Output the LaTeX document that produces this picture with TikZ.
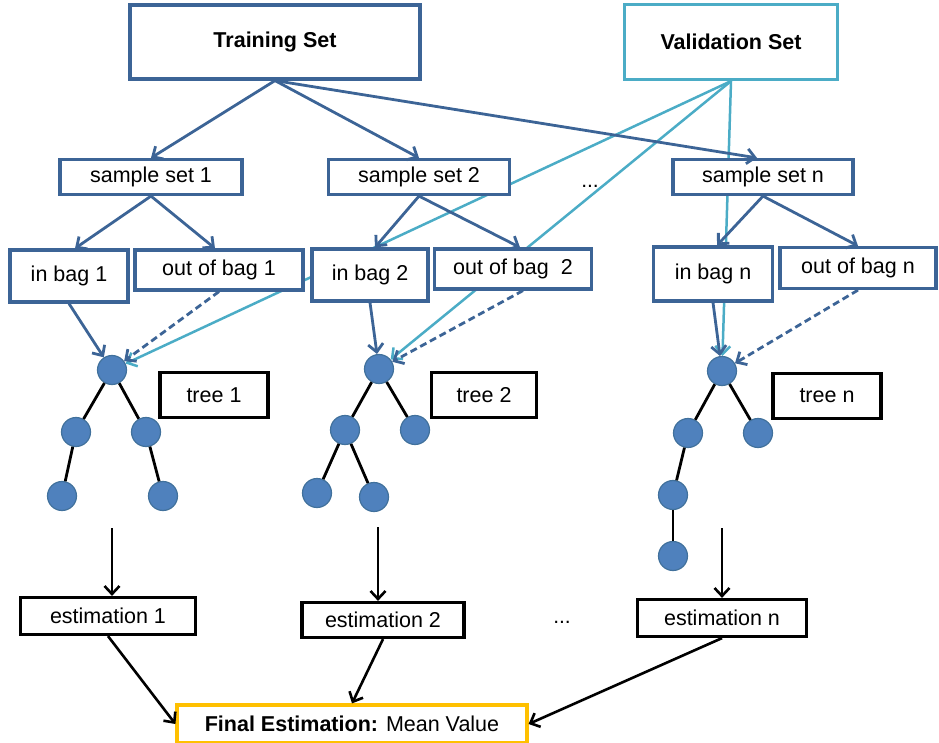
\documentclass[tikz,border=0pt]{standalone}
\usepackage{fontspec}
\setmainfont{Liberation Sans}
\usetikzlibrary{arrows.meta,backgrounds}
\definecolor{dblue}{HTML}{3C6496}
\definecolor{lblue}{HTML}{4BACC6}
\definecolor{nblue}{HTML}{4F81BD}
\definecolor{nedge}{HTML}{41719C}
\definecolor{fgold}{HTML}{FFC000}
\begin{document}
\begin{tikzpicture}[x=1pt,y=-1pt,
  box/.style={draw, line width=3.2pt, fill=white, inner sep=0pt, font=\fontsize{21.5}{25}\selectfont},
  bbox/.style={box, draw=dblue},
  kbox/.style={box, draw=black},
  tnode/.style={circle, fill=nblue, draw=nedge, line width=1.2pt, minimum size=29pt, inner sep=0pt},
  barb/.tip={Straight Barb[length=8pt,width=15pt]},
  darr/.style={draw=dblue, line width=2.8pt, -barb},
  larr/.style={draw=lblue, line width=2.5pt, -barb},
  karr/.style={draw=black, line width=2.6pt, -barb},
  tedge/.style={draw=black, line width=2.8pt}]
\useasboundingbox (0,0) rectangle (939,743);
\node[bbox, minimum width=290pt, minimum height=74pt] (ts) at (275,42){\bfseries Training Set};
\node[box, draw=lblue, minimum width=213pt, minimum height=75pt] (vs) at (731,42){\bfseries Validation Set};
\node[bbox, minimum width=182pt, minimum height=35pt] (ss1) at (151,177){sample set 1};
\node[bbox, minimum width=181pt, minimum height=35pt] (ss2) at (419,177){sample set 2};
\node[bbox, minimum width=180pt, minimum height=35pt] (ssn) at (763,177){sample set n};
\node[font=\fontsize{21}{25}\selectfont] (dots1) at (590,186){...};
\node[bbox, minimum width=118pt, minimum height=52pt] (ib1) at (69,276){in bag 1};
\node[bbox, minimum width=168pt, minimum height=40pt] (ob1) at (219,270){out of bag 1};
\node[bbox, minimum width=116pt, minimum height=52pt] (ib2) at (370,275){in bag 2};
\node[bbox, minimum width=157pt, minimum height=40pt] (ob2) at (513,269){out of bag~~2};
\node[bbox, minimum width=119pt, minimum height=54pt] (ibn) at (713,274){in bag n};
\node[bbox, minimum width=156pt, minimum height=41pt] (obn) at (858,268){out of bag n};
\node[tnode] (t1n0) at (112,370){};
\node[tnode] (t1n1) at (76,432){};
\node[tnode] (t1n2) at (146,432){};
\node[tnode] (t1n3) at (62,496){};
\node[tnode] (t1n4) at (163,496){};
\draw[tedge](t1n0) -- (t1n1);
\draw[tedge](t1n0) -- (t1n2);
\draw[tedge](t1n1) -- (t1n3);
\draw[tedge](t1n2) -- (t1n4);
\node[tnode] (t2n0) at (379,369){};
\node[tnode] (t2n1) at (345,430){};
\node[tnode] (t2n2) at (415,430){};
\node[tnode] (t2n3) at (317,493){};
\node[tnode] (t2n4) at (374,497){};
\draw[tedge](t2n0) -- (t2n1);
\draw[tedge](t2n0) -- (t2n2);
\draw[tedge](t2n1) -- (t2n3);
\draw[tedge](t2n1) -- (t2n4);
\node[tnode] (tnn0) at (722,371){};
\node[tnode] (tnn1) at (688,433){};
\node[tnode] (tnn2) at (758,433){};
\node[tnode] (tnn3) at (673,495){};
\node[tnode] (tnn4) at (673,556){};
\draw[tedge](tnn0) -- (tnn1);
\draw[tedge](tnn0) -- (tnn2);
\draw[tedge](tnn1) -- (tnn3);
\draw[tedge](tnn3) -- (tnn4);
\node[kbox, minimum width=108pt, minimum height=45pt] (tl1) at (214,395){tree 1};
\node[kbox, minimum width=105pt, minimum height=45pt] (tl2) at (484,395){tree 2};
\node[kbox, minimum width=108pt, minimum height=45pt] (tln) at (827,396){tree n};
\node[kbox, minimum width=175pt, minimum height=37pt] (es1) at (108,616){estimation 1};
\node[kbox, minimum width=162pt, minimum height=35pt] (es2) at (383,620){estimation 2};
\node[kbox, minimum width=169pt, minimum height=37pt] (esn) at (722,618){estimation n};
\node[font=\fontsize{21}{25}\selectfont] (dots2) at (562,622){...};
\node[box, draw=fgold, minimum width=350pt, minimum height=38pt] (fin) at (352,724){\textbf{Final Estimation:} Mean Value};
\coordinate (a1) at (112,528);
\coordinate (a2) at (378,527);
\coordinate (an) at (722,528);
\draw[darr](ts.south) -- (ss1.north);
\draw[darr](ts.south) -- (ss2.north);
\draw[darr](ts.south) -- ([xshift=-6pt]ssn.north);
\draw[darr](ss1.south) -- ([xshift=6pt]ib1.north);
\draw[darr](ss1.south) -- ([xshift=-4pt]ob1.north);
\draw[darr](ss2.south) -- ([xshift=5pt]ib2.north);
\draw[darr](ss2.south) -- ([xshift=7pt]ob2.north);
\draw[darr](ssn.south) -- ([xshift=4pt]ibn.north);
\draw[darr](ssn.south) -- (obn.north);
\draw[darr](ib1.south) -- (t1n0);
\draw[darr, dashed, dash pattern=on 7pt off 4pt](ob1.south) -- (t1n0);
\draw[darr](ib2.south) -- (t2n0);
\draw[darr, dashed, dash pattern=on 7pt off 4pt]([xshift=10pt]ob2.south) -- (t2n0);
\draw[darr](ibn.south) -- (tnn0);
\draw[darr, dashed, dash pattern=on 7pt off 4pt](obn.south) -- (tnn0);
\begin{scope}[on background layer]
\draw[larr](vs.south) -- (t1n0);
\draw[larr](vs.south) -- (t2n0);
\draw[larr](vs.south) -- (tnn0);
\end{scope}
\draw[karr](a1) -- (a1 |- es1.north);
\draw[karr](a2) -- (a2 |- es2.north);
\draw[karr](an) -- (an |- esn.north);
\draw[karr](es1.south) -- (fin.west);
\draw[karr](es2.south) -- (fin.north);
\draw[karr](esn.south) -- (fin.east);
\end{tikzpicture}
\end{document}
